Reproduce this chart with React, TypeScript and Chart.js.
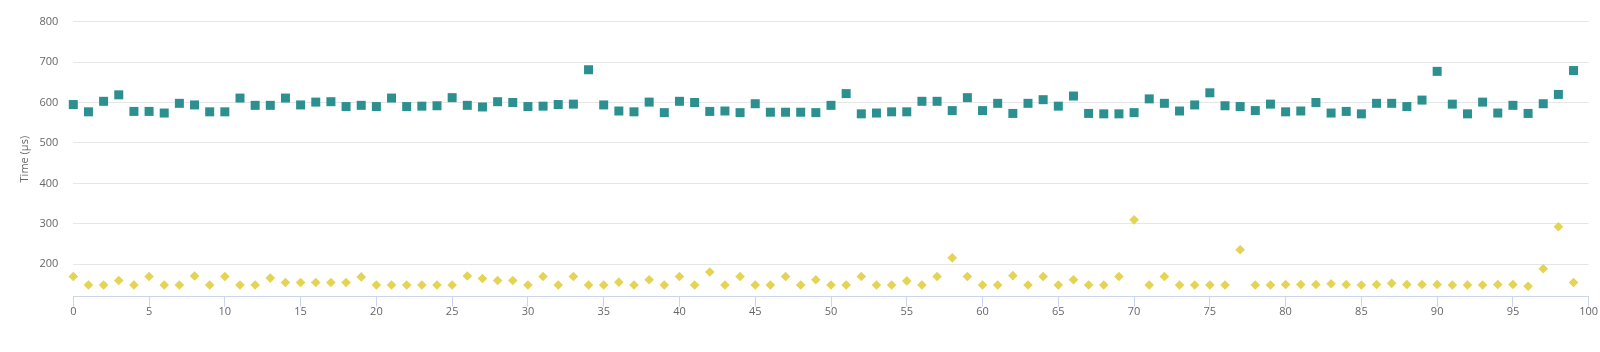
import React, { useEffect, useRef } from "react";
import { Chart, registerables } from "chart.js";

Chart.register(...registerables);

const seriesA: number[] = [
  595, 577, 603, 619, 578, 578, 574, 598, 594, 577,
  577, 611, 593, 593, 611, 594, 601, 602, 590, 593,
  590, 611, 590, 591, 592, 612, 593, 589, 602, 600,
  590, 591, 595, 596, 681, 594, 579, 577, 601, 575,
  603, 600, 578, 579, 575, 597, 576, 576, 576, 575,
  593, 622, 572, 574, 577, 577, 603, 603, 580, 612,
  580, 598, 573, 598, 607, 591, 616, 573, 572, 572,
  575, 609, 598, 579, 594, 624, 592, 590, 580, 596,
  577, 579, 600, 574, 578, 572, 598, 598, 590, 606,
  677, 596, 572, 601, 574, 593, 573, 597, 620, 679,
];

const seriesB: number[] = [
  170, 149, 149, 160, 149, 170, 149, 149, 171, 149,
  170, 149, 149, 166, 155, 155, 155, 155, 155, 169,
  149, 149, 149, 149, 149, 149, 171, 165, 160, 160,
  149, 170, 149, 170, 149, 149, 156, 149, 162, 149,
  170, 149, 181, 149, 170, 149, 149, 170, 149, 162,
  149, 149, 170, 149, 149, 159, 149, 170, 216, 170,
  149, 149, 172, 149, 170, 149, 162, 149, 149, 170,
  310, 149, 170, 149, 149, 149, 149, 236, 149, 149,
  150, 150, 150, 152, 150, 149, 150, 153, 150, 150,
  150, 149, 149, 149, 150, 150, 146, 189, 293, 155,
];

const yTickValues: number[] = [200, 300, 400, 500, 600, 700, 800];
const yTitle = "Time (µs)";

export default function App() {
  const ref = useRef<HTMLCanvasElement | null>(null);

  useEffect(() => {
    if (!ref.current) return;
    const font = { family: "'Open Sans', sans-serif", size: 11 };
    const chart = new Chart(ref.current, {
      type: "scatter",
      data: {
        datasets: [
          {
            label: "A",
            data: seriesA.map((v, i) => ({ x: i, y: v })),
            pointStyle: "rect",
            pointRadius: 6.36,
            pointHoverRadius: 6.36,
            backgroundColor: "#2b908f",
            borderWidth: 0,
            clip: false,
          },
          {
            label: "B",
            data: seriesB.map((v, i) => ({ x: i, y: v })),
            pointStyle: "rectRot",
            pointRadius: 4.8,
            pointHoverRadius: 4.8,
            backgroundColor: "#e4d354",
            borderWidth: 0,
            clip: false,
          },
        ],
      },
      options: {
        animation: false,
        responsive: true,
        maintainAspectRatio: false,
        layout: { padding: { top: 19.3, right: 11.3, left: 0, bottom: 0 } },
        plugins: {
          legend: { display: false },
          tooltip: { enabled: false },
          title: { display: false },
        },
        scales: {
          x: {
            type: "linear",
            min: 0,
            max: 100,
            afterFit: (s: any) => {
              s.height = 55.3;
            },
            ticks: {
              stepSize: 5,
              color: "#666666",
              font,
              padding: -1,
              maxRotation: 0,
            },
            grid: {
              drawOnChartArea: false,
              drawTicks: true,
              tickLength: 10,
              color: "#ccd6eb",
            },
            border: { color: "#ccd6eb", width: 1 },
          },
          y: {
            type: "linear",
            min: 120,
            max: 800,
            afterFit: (s: any) => {
              s.width = 73.3;
            },
            afterBuildTicks: (s: any) => {
              s.ticks = yTickValues.map((v) => ({ value: v }));
            },
            ticks: {
              color: "#666666",
              font,
              padding: 15,
            },
            grid: {
              color: "#e6e6e6",
              drawTicks: false,
            },
            border: { display: false },
            title: {
              display: true,
              text: yTitle,
              color: "#666666",
              font,
              padding: { top: 18, bottom: 0 },
            },
          },
        },
      },
    });
    return () => chart.destroy();
  }, []);

  return (
    <div
      style={{
        position: "fixed",
        left: 0,
        top: 0,
        width: 1600,
        height: 352,
        background: "#ffffff",
      }}
    >
      <canvas ref={ref} />
    </div>
  );
}
